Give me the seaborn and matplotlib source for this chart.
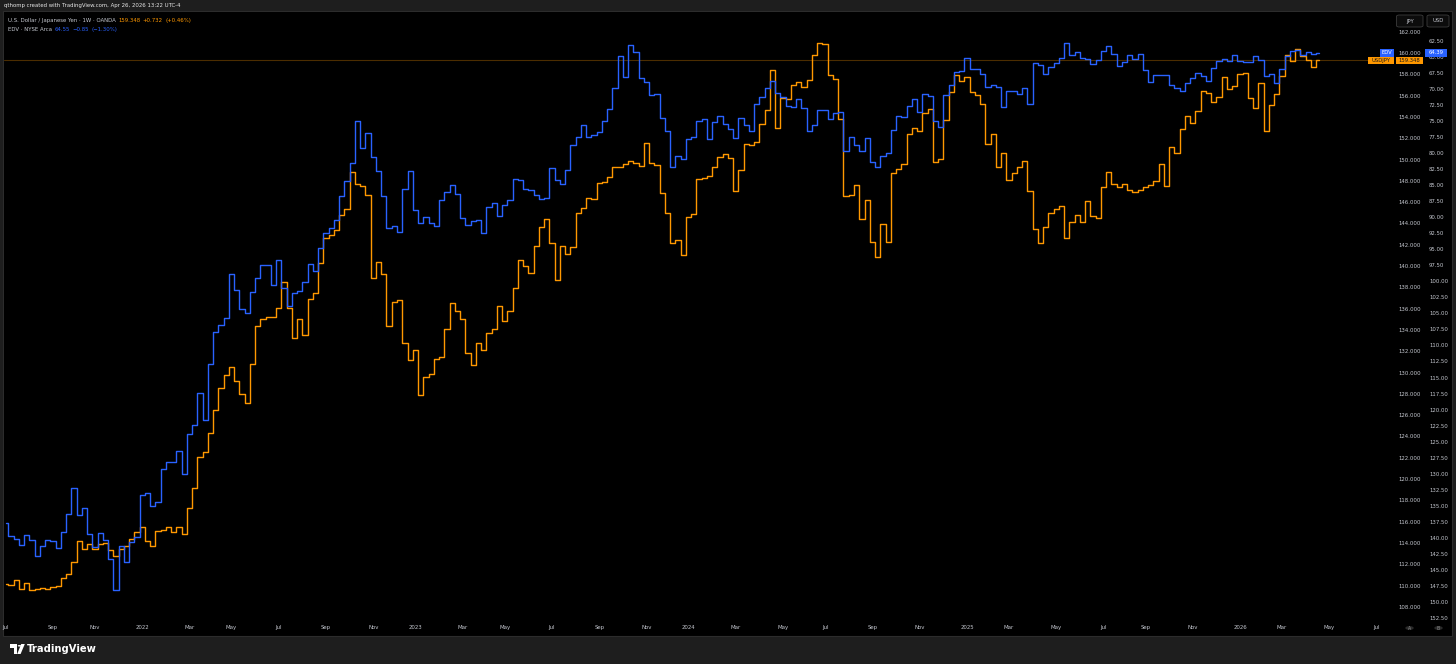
import numpy as np
import pandas as pd
import matplotlib
matplotlib.use('Agg')
import matplotlib.pyplot as plt
import matplotlib.dates as mdates
from matplotlib.patches import Rectangle, FancyBboxPatch, Circle, Polygon
import seaborn as sns

# weekly closes, week of 2021-07-05 .. week of 2026-04-20
usdjpy = [
    110.12, 110.06, 110.53, 109.71, 110.22, 109.56, 109.71, 109.80, 109.68, 109.90,
    109.93, 110.69, 111.06, 112.19, 114.19, 113.46, 113.88, 113.41, 113.88, 113.97,
    113.34, 112.81, 113.41, 113.72, 114.40, 115.06, 115.53, 114.19, 113.69, 115.15,
    115.19, 115.47, 115.03, 115.53, 114.82, 117.26, 119.14, 122.08, 122.54, 124.30,
    126.46, 128.55, 129.80, 130.53, 129.24, 127.96, 127.12, 130.84, 134.38, 135.00,
    135.19, 135.25, 136.09, 138.54, 136.04, 133.22, 135.00, 133.50, 136.88, 137.50,
    140.26, 142.64, 142.92, 143.36, 144.77, 145.39, 148.81, 147.68, 147.49, 146.65,
    138.85, 140.38, 139.23, 134.35, 136.63, 136.79, 132.81, 131.15, 132.09, 127.87,
    129.59, 129.84, 131.25, 131.44, 134.12, 136.51, 135.81, 135.06, 131.81, 130.71,
    132.81, 132.12, 133.75, 134.12, 136.28, 134.82, 135.76, 137.94, 140.60, 139.98,
    139.38, 141.92, 143.67, 144.39, 142.14, 138.69, 141.86, 141.16, 141.79, 144.96,
    145.43, 146.42, 146.27, 147.80, 147.90, 148.39, 149.33, 149.31, 149.62, 149.90,
    149.65, 149.37, 151.56, 149.68, 149.46, 146.84, 144.99, 142.17, 142.42, 141.04,
    144.64, 144.89, 148.18, 148.24, 148.43, 149.31, 150.22, 150.55, 150.15, 147.08,
    149.05, 151.46, 151.37, 151.68, 153.34, 154.66, 158.41, 152.97, 155.76, 155.72,
    157.00, 157.31, 156.79, 157.47, 159.85, 160.92, 160.83, 157.94, 157.54, 153.78,
    146.58, 146.65, 147.62, 144.42, 146.21, 142.29, 140.85, 143.95, 142.23, 148.77,
    149.12, 149.56, 152.38, 153.00, 152.66, 154.35, 154.78, 149.75, 150.06, 153.69,
    156.38, 157.92, 157.35, 157.76, 156.32, 156.04, 155.22, 151.44, 152.38, 149.31,
    150.65, 148.06, 148.71, 149.28, 149.87, 147.02, 143.51, 142.20, 143.67, 144.96,
    145.39, 145.64, 142.61, 144.11, 144.83, 144.17, 146.11, 144.68, 144.52, 147.46,
    148.86, 147.68, 147.43, 147.74, 147.17, 146.96, 147.12, 147.43, 147.64, 148.02,
    149.56, 147.49, 151.21, 150.65, 152.90, 154.07, 153.46, 154.54, 156.41, 156.23,
    155.38, 155.88, 157.76, 156.63, 156.88, 158.01, 158.10, 155.81, 154.85, 157.22,
    152.71, 155.10, 156.13, 157.85, 159.79, 159.29, 160.36, 159.73, 159.35, 158.67, 159.348,
]

edv = [
    137.74, 139.73, 140.24, 141.18, 139.62, 140.35, 142.85, 141.29, 140.30, 140.51,
    141.64, 139.10, 136.34, 132.28, 136.45, 135.40, 139.46, 141.39, 139.21, 140.40,
    143.27, 148.15, 141.29, 143.73, 140.61, 139.83, 133.33, 132.97, 135.00, 134.37,
    129.32, 128.13, 128.13, 126.46, 130.05, 123.77, 122.41, 117.46, 121.63, 112.94,
    107.85, 106.85, 105.76, 98.90, 101.39, 104.26, 104.89, 101.71, 99.52, 97.45,
    97.49, 100.52, 96.74, 101.08, 103.80, 101.77, 101.55, 100.10, 97.34, 98.34,
    94.75, 92.50, 91.63, 90.47, 86.63, 84.29, 81.58, 75.03, 79.15, 76.90,
    80.55, 82.73, 86.63, 91.67, 91.32, 92.25, 85.54, 82.73, 88.91, 90.89,
    89.96, 90.85, 91.32, 87.31, 86.10, 84.92, 86.32, 90.16, 91.21, 90.63,
    90.43, 92.41, 88.40, 87.77, 89.85, 88.13, 87.35, 84.03, 84.19, 85.59,
    85.70, 86.48, 87.15, 86.99, 82.24, 84.23, 84.86, 82.58, 78.77, 77.52,
    75.65, 77.48, 77.21, 76.74, 75.03, 73.11, 69.88, 64.89, 68.16, 63.08,
    64.26, 68.23, 68.85, 70.92, 70.82, 74.47, 76.59, 82.20, 80.49, 80.91,
    77.84, 77.52, 74.98, 74.67, 77.79, 75.18, 74.15, 75.45, 76.28, 77.63,
    74.56, 75.56, 76.49, 72.38, 71.28, 69.83, 68.69, 70.66, 71.24, 72.59,
    72.75, 71.50, 72.91, 76.49, 75.65, 73.31, 73.31, 74.67, 73.78, 73.53,
    79.61, 77.48, 78.77, 79.71, 77.68, 81.38, 82.16, 80.49, 80.02, 76.34,
    74.20, 74.36, 72.59, 71.60, 73.53, 70.72, 71.03, 75.03, 75.87, 70.97,
    69.41, 67.29, 67.18, 65.20, 66.92, 66.92, 67.60, 69.63, 69.36, 69.72,
    72.80, 70.35, 70.35, 70.82, 69.88, 72.38, 65.89, 66.20, 67.70, 66.60,
    65.89, 65.20, 62.86, 64.73, 64.26, 65.15, 65.31, 66.14, 65.51, 64.01,
    63.33, 64.57, 66.35, 65.73, 64.68, 65.31, 64.48, 67.07, 68.94, 67.85,
    67.85, 67.85, 69.32, 69.88, 70.30, 69.05, 68.32, 67.54, 67.96, 68.74,
    66.76, 65.67, 65.31, 65.57, 64.73, 65.67, 65.73, 65.78, 64.79, 65.42,
    67.96, 67.70, 69.01, 66.92, 64.84, 64.06, 63.90, 64.64, 64.26, 64.57, 64.39,
]

weeks = pd.date_range('2021-07-05', periods=len(usdjpy), freq='7D')

jpy_ticks = np.arange(108, 163, 2)
usd_ticks = np.arange(62.5, 153, 2.5)
months = pd.date_range('2021-07-01', '2026-07-01', freq='2MS')
month_labels = [m.strftime('%Y') if m.month == 1 else m.strftime('%b') for m in months]

ORANGE = '#ff9800'
BLUE = '#2962ff'
TXT = '#c4c7cf'

W, H = 1456, 664

sns.set_theme(style='dark')
plt.rcParams['font.family'] = ['DejaVu Sans']


def fx(px):
    return px / W


def fy(py):
    return 1 - py / H


fig = plt.figure(figsize=(W / 100, H / 100), dpi=100, facecolor='#1e1e1e')

# black chart panel
fig.patches.append(Rectangle((fx(3), fy(636)), fx(1452) - fx(3), fy(11) - fy(636),
                             transform=fig.transFigure, facecolor='black',
                             edgecolor='#2c2c2c', lw=0.8, zorder=-1))

ax = fig.add_axes([fx(4), fy(622), fx(1394) - fx(4), fy(12) - fy(622)])
ax.set_facecolor('black')

df = pd.DataFrame({'week': weeks, 'usdjpy': usdjpy, 'edv': edv})

ax.axhline(usdjpy[-1], color=ORANGE, alpha=0.3, lw=0.8, zorder=1)
sns.lineplot(data=df, x='week', y='usdjpy', ax=ax, color=ORANGE, lw=1.0,
             drawstyle='steps-mid', estimator=None, zorder=2)

ax2 = ax.twinx()
sns.lineplot(data=df, x='week', y='edv', ax=ax2, color=BLUE, lw=1.0,
             drawstyle='steps-mid', estimator=None, zorder=2)

# x range: pixel -> date mapping
x0 = mdates.date2num(pd.Timestamp('2021-07-01'))
ax.set_xlim(x0 + (4 - 2.67) / 0.7504, x0 + (1394 - 2.67) / 0.7504)
ax.set_ylim(106.58, 163.86)
ax2.set_ylim(153.14, 57.98)   # EDV drawn inverted

# first weekly bar of each month carries the label
tick_dates = [m + pd.Timedelta(days=(7 - m.weekday()) % 7) for m in months]
ax.set_xticks(mdates.date2num(tick_dates))
ax.set_xticklabels(month_labels)
ax.tick_params(axis='x', length=0, pad=2.2, labelsize=3.9, labelcolor=TXT)

ax.yaxis.tick_right()
ax.set_yticks(jpy_ticks)
ax.set_yticklabels([f'{v:.3f}' for v in jpy_ticks])
ax.tick_params(axis='y', length=0, pad=2.9, labelsize=3.9, labelcolor=TXT)

ax2.set_yticks(usd_ticks)
ax2.set_yticklabels([f'{v:.2f}' for v in usd_ticks])
ax2.tick_params(axis='y', length=0, pad=25.2, labelsize=3.9, labelcolor=TXT)

for a in (ax, ax2):
    a.set_xlabel('')
    a.set_ylabel('')
    a.grid(False)
    for s in a.spines.values():
        s.set_visible(False)

renderer = fig.canvas.get_renderer()


def text_run(x, y, pieces, size, gap=2.5, **kw):
    for s, c in pieces:
        t = fig.text(fx(x), fy(y), s, color=c, fontsize=size, va='center', ha='left', **kw)
        x = t.get_window_extent(renderer).x1 + gap


# top strip
fig.text(fx(4), fy(5), 'qthomp created with TradingView.com, Apr 26, 2026 13:22 UTC-4',
         color='#e6e6e6', fontsize=3.9, va='center', ha='left')

# legend lines
text_run(8, 20.5, [('U.S. Dollar / Japanese Yen · 1W · OANDA', TXT), ('159.348', ORANGE),
                   ('+0.732', ORANGE), ('(+0.46%)', ORANGE)], 3.9)
text_run(8, 29.5, [('EDV · NYSE Arca', TXT), ('64.55', BLUE), ('−0.85', BLUE),
                   ('(−1.30%)', BLUE)], 3.9)


def box(x1, y1, x2, y2, fc, label, tc, size=3.8):
    fig.patches.append(Rectangle((fx(x1), fy(y2)), fx(x2) - fx(x1), fy(y1) - fy(y2),
                                 transform=fig.transFigure, facecolor=fc, edgecolor='none', zorder=5))
    fig.text(fx((x1 + x2) / 2), fy((y1 + y2) / 2), label, color=tc, fontsize=size,
             ha='center', va='center', zorder=6)


# last-value labels on the price scales
box(1380, 48.8, 1394, 56.6, BLUE, 'EDV', 'white')
box(1368, 56.6, 1394, 64.4, ORANGE, 'USDJPY', '#1a1a1a')
box(1424.5, 48.8, 1447, 56.6, BLUE, '64.39', 'white')
box(1396, 56.6, 1422.5, 64.4, ORANGE, '159.348', '#1a1a1a')

# currency buttons above the scales
for x1, x2, lab in [(1396.5, 1423, 'JPY'), (1427, 1449, 'USD')]:
    fig.patches.append(FancyBboxPatch((fx(x1), fy(27)), fx(x2) - fx(x1), fy(15) - fy(27),
                                      boxstyle='round,pad=0,rounding_size=0.002',
                                      transform=fig.transFigure, facecolor='#0c0c0c',
                                      edgecolor='#3c3c3c', lw=0.6, zorder=5))
    fig.text(fx((x1 + x2) / 2), fy(21), lab, color=TXT, fontsize=3.8,
             ha='center', va='center', zorder=6)

# A / B scale buttons
for cx, lab in [(1409.5, 'A'), (1438.5, 'B')]:
    fig.patches.append(Circle((fx(cx), fy(628)), 4.2 / W, transform=fig.transFigure,
                              facecolor='#2a2a2a', edgecolor='none', zorder=5))
    fig.text(fx(cx), fy(628), lab, color='#8a8a8a', fontsize=3.3,
             ha='center', va='center', zorder=6)

# footer logo
logo = [
    Rectangle((fx(10), fy(647.5)), fx(17) - fx(10), fy(644) - fy(647.5)),
    Rectangle((fx(13.6), fy(654)), fx(17) - fx(13.6), fy(644) - fy(654)),
    Circle((fx(19.4), fy(645.8)), 1.7 / W),
    Polygon([(fx(21.2), fy(644)), (fx(24.8), fy(644)), (fx(20.6), fy(654)), (fx(17.2), fy(654))]),
]
for p in logo:
    p.set_transform(fig.transFigure)
    p.set_facecolor('white')
    p.set_edgecolor('none')
    fig.patches.append(p)
fig.text(fx(27), fy(649.5), 'TradingView', color='white', fontsize=7.2,
         fontweight='bold', va='center', ha='left')

fig.savefig('out.png', dpi=100, facecolor=fig.get_facecolor())
